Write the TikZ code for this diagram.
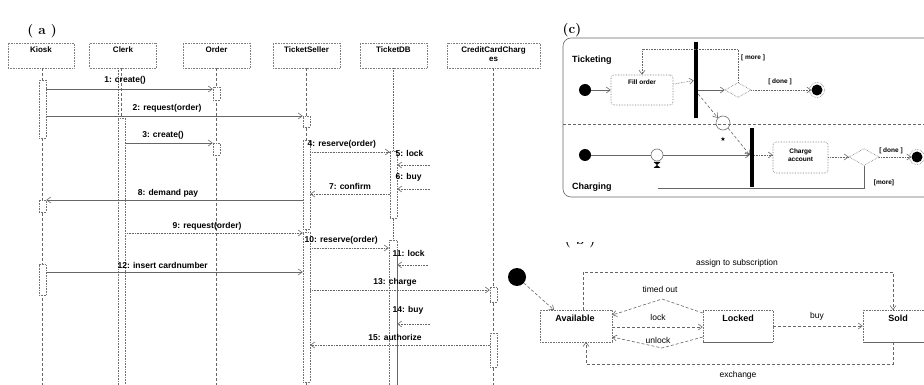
\documentclass[tikz,border=0pt]{standalone}
\usepackage{fontspec}
\setmainfont{Liberation Sans}
\newfontfamily\symfont{DejaVu Sans}
\newfontfamily\panelfont{Latin Modern Roman}
\usetikzlibrary{arrows.meta,shapes.geometric,calc}
\begin{document}
\begin{tikzpicture}[x=1pt,y=-1pt,
  ln/.style={draw=black!60, line width=0.6pt},
  dl/.style={ln, densely dashed},
  dt/.style={ln, densely dotted},
  tip/.style={-{Straight Barb[length=4pt,width=6pt]}},
  hdr/.style={draw=black!50, densely dotted, line width=0.6pt, minimum width=66pt, minimum height=25pt, inner sep=0pt},
  htxt/.style={font=\bfseries\fontsize{8}{9}\selectfont, anchor=north, inner sep=1pt, align=center},
  act/.style={draw=black!55, densely dotted, line width=0.6pt, minimum width=7pt, inner sep=0pt, fill=white},
  mlab/.style={font=\bfseries\fontsize{8.5}{9}\selectfont, inner sep=0.5pt},
  panel/.style={font=\panelfont\bfseries\fontsize{13.5}{14}\selectfont, inner sep=0pt},
  lane/.style={font=\bfseries\fontsize{9}{10}\selectfont, anchor=west, inner sep=0pt},
  abox/.style={draw=black!55, densely dotted, line width=0.6pt, rounded corners=3pt, inner sep=0pt},
  btxt/.style={font=\bfseries\fontsize{6.5}{8}\selectfont, inner sep=0pt, align=center},
  guard/.style={font=\bfseries\fontsize{6.5}{8}\selectfont, inner sep=0pt},
  dot/.style={circle, fill=black, inner sep=0pt},
  bar/.style={fill=black, inner sep=0pt, minimum width=4pt},
  dia/.style={diamond, draw=black!55, densely dotted, line width=0.6pt, inner sep=0pt, minimum width=26pt, minimum height=15pt},
  sbox/.style={draw=black!55, densely dotted, line width=0.6pt, minimum height=32pt, inner sep=0pt},
  stxt/.style={font=\bfseries\fontsize{9}{10}\selectfont, inner sep=0pt},
  tlab/.style={font=\fontsize{8.5}{10}\selectfont, inner sep=0pt}
]
\useasboundingbox (0,0) rectangle (924,385);

% ================= (a) sequence diagram =================
\node[panel] (pa) at (42,31) {( a )};
\node[hdr] (kiosk) at (41,55.5) {};
\node[hdr, minimum width=67pt] (clerk) at (123,55.5) {};
\node[hdr, minimum width=67pt] (order) at (216.5,55.5) {};
\node[hdr, minimum width=67pt] (ts) at (306.5,55.5) {};
\node[hdr, minimum width=67pt] (db) at (393.5,55.5) {};
\node[hdr, minimum width=93pt] (cc) at (493.5,55.5) {};
\node[htxt] (kioskT) at ([yshift=-3pt]kiosk.north) {Kiosk};
\node[htxt] (clerkT) at ([yshift=-3pt]clerk.north) {Clerk};
\node[htxt] (orderT) at ([yshift=-3pt]order.north) {Order};
\node[htxt] (tsT) at ([yshift=-3pt]ts.north) {TicketSeller};
\node[htxt] (dbT) at ([yshift=-3pt]db.north) {TicketDB};
\node[htxt] (ccT) at ([yshift=-3pt]cc.north) {CreditCardCharg\\es};

% lifelines
\coordinate (kEnd) at (42.5,385);
\coordinate (cEnd) at (121.5,385);
\coordinate (oEnd) at (216.5,385);
\coordinate (tEnd) at (306.5,385);
\coordinate (dEnd) at (393,385);
\coordinate (ccEnd) at (493.5,385);
\draw[dl] (kiosk.south -| kEnd) -- (kEnd);
\draw[dl] (clerk.south -| cEnd) -- (cEnd);
\draw[dt] (118,68) -- (118,385);
\draw[dl] (order.south -| oEnd) -- (oEnd);
\draw[dl] (ts.south -| tEnd) -- (tEnd);
\draw[dt] (db.south -| dEnd) -- (dEnd);
\draw[dl] (cc.south -| ccEnd) -- (ccEnd);

% activations
\node[act, minimum height=58pt] (kA1) at (42.5,109) {};
\node[act, minimum height=12pt] (kA2) at (42.5,206) {};
\node[act, minimum height=31pt] (kA3) at (42.5,280) {};
\node[act, minimum height=275pt] (cA1) at (121.5,255.5) {};
\node[act, minimum height=13pt] (oA1) at (216.5,93.5) {};
\node[act, minimum height=12pt] (oA2) at (216.5,149) {};
\node[act, minimum height=11pt] (tA0) at (306.5,121.5) {};
\node[act, minimum height=89pt] (tA1) at (306.5,184.5) {};
\node[act, minimum height=150pt] (tA2) at (306.5,307) {};
\node[act, minimum height=67pt] (dA1) at (393.5,184.5) {};
\node[act, minimum height=150pt, minimum width=8pt] (dA2) at (393,315) {};
\draw[ln] (dA2.north east) ++(0,13) -- (dA2.south east);
\node[act, minimum height=15pt] (ccA1) at (493.5,294.5) {};
\node[act, minimum height=34pt] (ccA2) at (493.5,350) {};

% free ends of the self calls
\coordinate (r5) at (430,165);
\coordinate (r6) at (430,189);
\coordinate (r11) at (428,265);
\coordinate (r14) at (430,324);

% messages
\draw[ln,tip] (kA1.east |- 0,89) -- (oA1.west |- 0,89);
\draw[ln,tip] (kA1.east |- 0,116) -- (tA0.west |- 0,116);
\draw[ln,tip] (cA1.east |- 0,143) -- (oA2.west |- 0,143);
\draw[dt,tip] (tA1.east |- 0,152) -- (dA1.west |- 0,152);
\draw[dt,tip] (r5) -- (dA1.east |- r5);
\draw[dt,tip] (r6) -- (dA1.east |- r6);
\draw[dt,tip] (dA1.west |- 0,194) -- (tA1.east |- 0,194);
\draw[ln,tip] (tA1.west |- 0,200) -- (kA2.east |- 0,200);
\draw[dt,tip] (cA1.east |- 0,233) -- (tA2.west |- 0,233);
\draw[dt,tip] (tA2.east |- 0,248) -- (dA2.west |- 0,248);
\draw[dt,tip] (r11) -- (dA2.east |- r11);
\draw[ln,tip] (kA3.east |- 0,272) -- (tA2.west |- 0,272);
\draw[dt,tip] (tA2.east |- 0,290) -- (ccA1.west |- 0,290);
\draw[dt,tip] (r14) -- (dA2.east |- r14);
\draw[dt,tip] (ccA2.west |- 0,345) -- (tA2.east |- 0,345);

% message labels
\node[mlab] (l1) at (125,80) {1: create()};
\node[mlab] (l2) at (167,108) {2: request(order)};
\node[mlab] (l3) at (163,135) {3: create()};
\node[mlab, anchor=west] (l4) at (307,144) {4: reserve(order)};
\node[mlab, anchor=west] (l5) at (395,153) {5: lock};
\node[mlab, anchor=west] (l6) at (395,177) {6: buy};
\node[mlab] (l7) at (350,186) {7: confirm};
\node[mlab] (l8) at (168,193) {8: demand pay};
\node[mlab] (l9) at (207,226) {9: request(order)};
\node[mlab, anchor=west] (l10) at (304,240) {10: reserve(order)};
\node[mlab, anchor=west] (l11) at (392,253) {11: lock};
\node[mlab, anchor=west] (l12) at (117,265) {12: insert cardnumber};
\node[mlab] (l13) at (395,282) {13: charge};
\node[mlab, anchor=west] (l14) at (392,310) {14: buy};
\node[mlab] (l15) at (395,337) {15: authorize};

% ================= (c) activity diagram =================
\node[panel] (pc) at (572,30) {(c)};
\draw[ln, rounded corners=8pt] (940,38) -- (563,38) -- (563,197) -- (940,197);
\draw[dl] (563,124) -- (940,124);
\node[lane] (tick) at (572,60) {Ticketing};
\node[lane] (charg) at (572,187) {Charging};

\node[dot, minimum size=12pt] (ti) at (585,90) {};
\node[abox, minimum width=62pt, minimum height=30pt] (fill) at (642,90) {};
\node[btxt] (fillT) at (642,82) {Fill order};
\node[bar, minimum height=76pt] (bar1) at (696,80) {};
\node[dia] (d1) at (738,90) {};
\node[dot, minimum size=11pt] (f1) at (817,90) {};
\draw[black!55, densely dotted, line width=0.6pt] (f1) circle (7.5pt);
\coordinate (mtop) at (738,49);
\node[guard] (gmore) at (753,58) {[ more ]};
\node[guard] (gdone) at (780,82) {[ done ]};
\draw[ln,tip] (ti) -- (fill);
\draw[dt,tip] (fill) -- (bar1);
\draw[ln,tip] (bar1.east |- d1) -- (d1.west);
\draw[dt,tip] (d1.north) -- (mtop) -| (fill.north);
\draw[dt,tip] (d1.east) -- (f1);

\node[circle, draw=black!55, line width=0.6pt, minimum size=14pt, inner sep=0pt] (obj) at (723,123) {};
\node[font=\symfont\fontsize{6}{6}\selectfont, inner sep=0pt] (star) at (723,139) {★};
\draw[dl,tip] (bar1.east |- 0,94) -- (obj.north west);

\node[bar, minimum height=59pt] (bar2) at (752,157.5) {};
\draw[dl,tip] (obj.south east) -- (bar2.west |- 0,155);

\node[dot, minimum size=12pt] (ci) at (585,155) {};
\node[circle, draw=black!55, line width=0.6pt, minimum size=12pt, inner sep=0pt] (tm) at (657,155) {};
\fill[black] (653.5,162) -- (660.5,162) -- (653.5,168) -- (660.5,168) -- cycle;
\draw[ln] (ci) -- (tm);
\draw[ln,tip] (tm) -- (bar2.west |- tm);
\node[abox, minimum width=55pt, minimum height=31pt] (chg) at (800.5,157.5) {};
\node[btxt] (chgT) at (800.5,155) {Charge\\account};
\draw[dt,tip] (bar2.east |- 0,155) -- (chg.west |- 0,155);
\node[dia, minimum width=30pt, minimum height=17pt] (d2) at (864,157) {};
\draw[dt,tip] (chg.east |- d2) -- (d2.west);
\node[dot, minimum size=11pt] (f2) at (917,157) {};
\draw[black!55, densely dotted, line width=0.6pt] (f2) circle (7.5pt);
\draw[dt,tip] (d2.east) -- (f2);
\node[guard] (gdone2) at (891,151) {[ done ]};
\node[guard] (gmore2) at (884,183) {[more]};
\coordinate (mback) at (658,188);
\draw[ln] (d2.south) |- (mback);

% ================= (b) state diagram =================
\begin{scope}
\clip (560,242) rectangle (600,250);
\node[panel] (pb) at (580,241) {( b )};
\end{scope}
\node[dot, minimum size=18pt] (si) at (517,277) {};
\node[sbox, minimum width=72pt] (avail) at (576,326) {};
\node[sbox, minimum width=70pt] (locked) at (738,326) {};
\node[sbox, minimum width=72pt] (sold) at (899,326) {};
\draw[black!60, line width=1.2pt] (locked.south west) -- (locked.south east);
\draw[black!60, line width=1.2pt] (sold.south west) -- (sold.south east);
\node[stxt] (availT) at (575,318) {Available};
\node[stxt] (lockedT) at (738,318) {Locked};
\node[stxt] (soldT) at (898,318) {Sold};

\coordinate (aIn) at (554,310);
\draw[dl,tip] (si) -- (aIn);
% assign to subscription
\coordinate (asA) at (583,310);
\coordinate (asS) at (893,310);
\draw[dl,tip] (asA) -- (583,272) -| (asS);
\node[tlab] (lassign) at (737,263) {assign to subscription};
% timed out
\coordinate (topk) at (662,299);
\draw[dl,tip] (locked.west |- 0,313) -- (topk) -- (avail.east |- 0,315);
\node[tlab] (ltimed) at (660,289) {timed out};
% lock
\draw[dl,tip] (avail.east |- 0,327) -- (locked.west |- 0,327);
\node[tlab] (llock) at (658,317) {lock};
% unlock
\coordinate (botk) at (662,348);
\draw[dl,tip] (locked.west |- 0,337) -- (botk) -- (avail.east |- 0,337);
\node[tlab] (lunlock) at (658,340) {unlock};
% buy
\draw[dl,tip] (locked.east |- 0,326) -- (sold.west |- 0,326);
\node[tlab] (lbuy) at (817,316) {buy};
% exchange
\coordinate (exS) at (893,342);
\coordinate (exA) at (586,342);
\draw[dl,tip] (exS) -- (893,364) -| (exA);
\node[tlab] (lexch) at (738,375) {exchange};
\end{tikzpicture}
\end{document}
